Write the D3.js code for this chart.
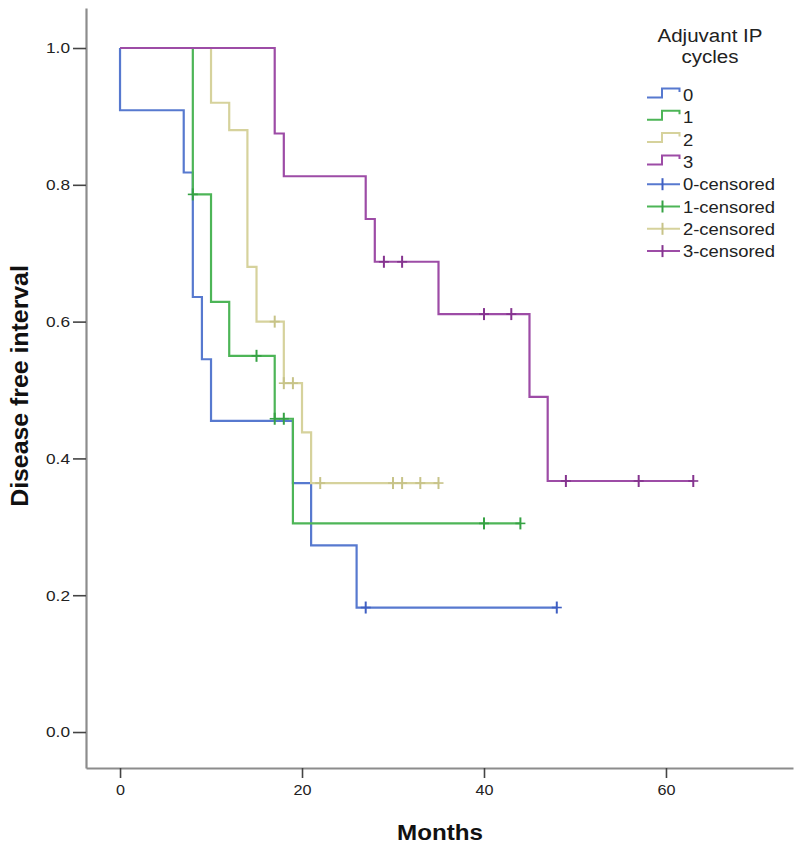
<!DOCTYPE html>
<html><head><meta charset="utf-8">
<script src="https://cdn.jsdelivr.net/npm/d3@7"></script>
<style>body{margin:0;background:#fff}svg{display:block}text{font-family:"Liberation Sans",Arial,sans-serif}</style>
</head><body>
<svg id="c" width="800" height="847"></svg>
<script>
// ---- data ----
const groups = ["0", "1", "2", "3"];
const colors = ["#5779cf", "#4db557", "#d6d29c", "#9d4ca6"];
const censorColors = ["#3f5fc2", "#36a244", "#c7c388", "#85348f"];

const times0 = [0, 0, 7, 8, 9, 10, 19, 21, 26, 48];
const surv0  = [1, 0.909, 0.818, 0.636, 0.545, 0.455, 0.364, 0.273, 0.182, 0.182];
const cTimes0 = [27, 48];
const cSurv0  = [0.182, 0.182];

const times1 = [0, 8, 10, 12, 17, 19, 44];
const surv1  = [1, 0.786, 0.629, 0.550, 0.458, 0.305, 0.305];
const cTimes1 = [8, 15, 17, 18, 40, 44];
const cSurv1  = [0.786, 0.550, 0.458, 0.458, 0.305, 0.305];

const times2 = [0, 10, 12, 14, 15, 18, 20, 21, 35];
const surv2  = [1, 0.92, 0.88, 0.68, 0.60, 0.51, 0.438, 0.364, 0.364];
const cTimes2 = [17, 18, 19, 22, 30, 31, 33, 35];
const cSurv2  = [0.60, 0.51, 0.51, 0.364, 0.364, 0.364, 0.364, 0.364];

const times3 = [0, 17, 18, 27, 28, 35, 45, 47, 63];
const surv3  = [1, 0.875, 0.8125, 0.75, 0.6875, 0.611, 0.49, 0.367, 0.367];
const cTimes3 = [29, 31, 40, 43, 49, 57, 63];
const cSurv3  = [0.6875, 0.6875, 0.611, 0.611, 0.367, 0.367, 0.367];

const xTicks = [0, 20, 40, 60];
const yTicks = [0.0, 0.2, 0.4, 0.6, 0.8, 1.0];
const legendTitle = ["Adjuvant IP", "cycles"];
const legendLines = ["0", "1", "2", "3"];
const legendCensored = ["0-censored", "1-censored", "2-censored", "3-censored"];

const curves = [
  {t: times0, s: surv0, ct: cTimes0, cs: cSurv0},
  {t: times1, s: surv1, ct: cTimes1, cs: cSurv1},
  {t: times2, s: surv2, ct: cTimes2, cs: cSurv2},
  {t: times3, s: surv3, ct: cTimes3, cs: cSurv3}
];

// ---- layout ----
const svg = d3.select("#c");
const x = d3.scaleLinear().domain([-3.74, 73.96]).range([86, 793]);
const y = d3.scaleLinear().domain([-0.0526, 1.0585]).range([768, 8]);

function stretch(sel, f) {
  sel.each(function() {
    const w = this.getComputedTextLength();
    d3.select(this).attr("textLength", w * f).attr("lengthAdjust", "spacingAndGlyphs");
  });
}

// axes
const yAxis = svg.append("g").attr("transform", "translate(86,0)")
  .call(d3.axisLeft(y).tickValues(yTicks).tickFormat(d3.format(".1f"))
    .tickSizeInner(13).tickSizeOuter(0).tickPadding(3));
const xAxis = svg.append("g").attr("transform", "translate(0,768)")
  .call(d3.axisBottom(x).tickValues(xTicks).tickFormat(d3.format("d"))
    .tickSizeInner(10).tickSizeOuter(0).tickPadding(6));
[yAxis, xAxis].forEach(a => {
  a.select(".domain").attr("stroke", "#8c8c8c").attr("stroke-width", 2.2);
  a.selectAll(".tick line").attr("stroke", "#444").attr("stroke-width", 1.6);
  a.selectAll(".tick text").attr("font-size", 15).attr("fill", "#222")
    .attr("font-family", "'Liberation Sans', Arial, sans-serif");
});
yAxis.selectAll(".tick text").call(stretch, 1.15);
xAxis.selectAll(".tick text").call(stretch, 1.08);

// axis titles
svg.append("text").attr("x", 440).attr("y", 840).attr("text-anchor", "middle")
  .attr("font-size", 22).attr("font-weight", "bold").attr("fill", "#111").text("Months")
  .call(stretch, 1.1);
svg.append("text").attr("transform", "translate(28,386) rotate(-90)").attr("text-anchor", "middle")
  .attr("font-size", 23).attr("font-weight", "bold").attr("fill", "#111").text("Disease free interval")
  .call(stretch, 1.08);

// curves
const line = d3.line().x(d => x(d[0])).y(d => y(d[1])).curve(d3.curveStepAfter);
const plot = svg.append("g");
curves.forEach((c, i) => {
  const pts = c.t.map((t, k) => [t, c.s[k]]);
  plot.append("path").attr("d", line(pts)).attr("fill", "none")
    .attr("stroke", colors[i]).attr("stroke-width", 2.2);
});
curves.forEach((c, i) => {
  const g = plot.append("g").attr("stroke", censorColors[i]).attr("stroke-width", 2);
  c.ct.forEach((t, k) => {
    const cx = x(t), cy = y(c.cs[k]);
    g.append("line").attr("x1", cx).attr("x2", cx).attr("y1", cy - 6).attr("y2", cy + 6);
    g.append("line").attr("x1", cx - 5).attr("x2", cx + 5).attr("y1", cy).attr("y2", cy)
      .attr("stroke-width", 1.6);
  });
});

// legend
const lg = svg.append("g");
legendTitle.forEach((t, i) => {
  lg.append("text").attr("x", 710).attr("y", 42 + i * 21).attr("text-anchor", "middle")
    .attr("font-size", 18).attr("fill", "#222").text(t).call(stretch, 1.14);
});
const rowY = i => 95 + i * 22.3;
legendLines.forEach((t, i) => {
  const yy = rowY(i);
  lg.append("path")
    .attr("d", `M647,${yy + 2.5}H662V${yy - 6.5}H679.5V${yy - 3}`)
    .attr("fill", "none").attr("stroke", colors[i]).attr("stroke-width", 2);
  lg.append("text").attr("x", 683).attr("y", yy + 6).attr("font-size", 16).attr("fill", "#222")
    .text(t).call(stretch, 1.15);
});
legendCensored.forEach((t, i) => {
  const yy = rowY(i + 4);
  lg.append("line").attr("x1", 647).attr("x2", 680).attr("y1", yy).attr("y2", yy)
    .attr("stroke", colors[i]).attr("stroke-width", 2);
  lg.append("line").attr("x1", 662.5).attr("x2", 662.5).attr("y1", yy - 6).attr("y2", yy + 6)
    .attr("stroke", censorColors[i]).attr("stroke-width", 2);
  lg.append("text").attr("x", 683).attr("y", yy + 6).attr("font-size", 16).attr("fill", "#222")
    .text(t).call(stretch, 1.15);
});
</script>
</body></html>
